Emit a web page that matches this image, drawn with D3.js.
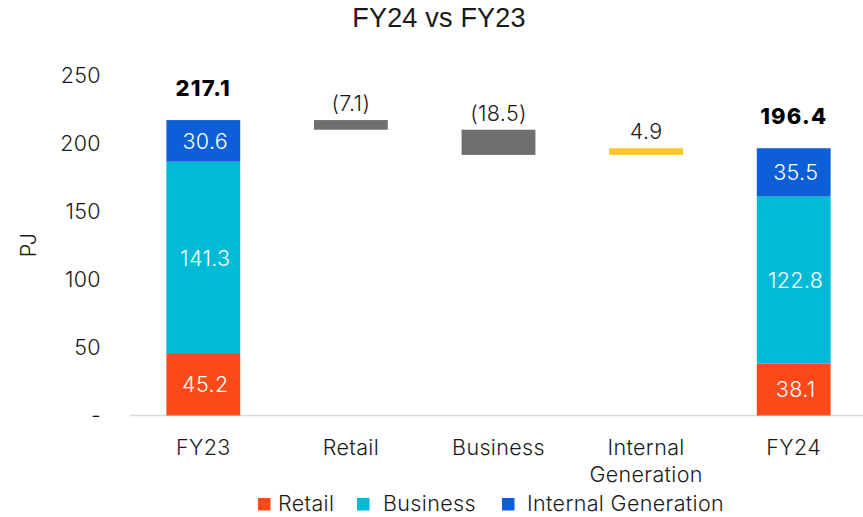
<!DOCTYPE html>
<html>
<head>
<meta charset="utf-8">
<script src="https://cdn.jsdelivr.net/npm/d3@7"></script>
<style>
  html, body { margin: 0; padding: 0; background: #fff; }
  svg { display: block; }
  text { font-family: Inter, "Noto Sans", sans-serif; font-weight: 350; letter-spacing: 0.35px; }
</style>
</head>
<body>
<svg id="chart" width="863" height="517"></svg>
<script>
const categories = ["FY23", "Retail", "Business", "Internal Generation", "FY24"];
const seriesNames = ["Retail", "Business", "Internal Generation"];
const seriesColors = ["#FC4919", "#00BAD6", "#0C5FD6"];
const fy23Values = [45.2, 141.3, 30.6];
const fy24Values = [38.1, 122.8, 35.5];
const changeCategories = ["Retail", "Business", "Internal Generation"];
const changeValues = [-7.1, -18.5, 4.9];
const changeLabels = ["(7.1)", "(18.5)", "4.9"];
const totalLabels = ["217.1", "196.4"];
const yTicks = [0, 50, 100, 150, 200, 250];
const yTickLabels = ["-", "50", "100", "150", "200", "250"];

const svg = d3.select("#chart");

const x = d3.scaleBand().domain(categories).range([129.5, 867.5]).paddingInner(0.5).paddingOuter(0.25);
const y = d3.scaleLinear().domain([0, 250]).range([415.5, 75.3]);

// Title
svg.append("text").attr("x", 439).attr("y", 27).attr("text-anchor", "middle")
  .style("font-family", "'Liberation Sans', Arial, sans-serif").style("font-weight", "400")
  .style("letter-spacing", "0.2px").style("font-size", "27px").attr("fill", "#1a1a1a")
  .text("FY24 vs FY23");

// Y axis (labels only)
const yAxis = d3.axisLeft(y).tickValues(yTicks).tickFormat((d, i) => yTickLabels[i]).tickSize(0).tickPadding(0);
const yg = svg.append("g").attr("transform", "translate(101,0)").call(yAxis);
yg.select(".domain").remove();
yg.selectAll("text").style("font-family", "Inter, sans-serif").style("font-size", "21.5px").attr("fill", "#1a1a1a");

// Y title
svg.append("text").attr("transform", "translate(36,245) rotate(-90)").attr("text-anchor", "middle")
  .style("font-size", "21.5px").attr("fill", "#1a1a1a").text("PJ");

// Baseline
svg.append("line").attr("x1", 130).attr("x2", 863).attr("y1", y(0)).attr("y2", y(0))
  .attr("stroke", "#D9D9D9").attr("stroke-width", 1.5);

// Stacked totals
function stacked(cat, vals, totalLabel) {
  let base = 0;
  vals.forEach((v, i) => {
    const y0 = y(base), y1 = y(base + v);
    svg.append("rect").attr("x", x(cat)).attr("width", x.bandwidth())
      .attr("y", y1).attr("height", y0 - y1).attr("fill", seriesColors[i]);
    svg.append("text").attr("x", x(cat) + x.bandwidth() / 2 + 2).attr("y", (y0 + y1) / 2)
      .attr("dy", "0.36em").attr("text-anchor", "middle").style("font-size", "21.5px")
      .attr("fill", "#fff").text(v.toFixed(1));
    base += v;
  });
  svg.append("text").attr("x", x(cat) + x.bandwidth() / 2).attr("y", y(base) - 24)
    .attr("text-anchor", "middle").style("font-size", "22px").style("font-weight", "800")
    .style("letter-spacing", "1.2px").attr("fill", "#000").text(totalLabel);
  return base;
}
let running = stacked("FY23", fy23Values, totalLabels[0]);

changeCategories.forEach((cat, i) => {
  const v = changeValues[i];
  const start = running, end = running + v;
  const top = y(Math.max(start, end)), bot = y(Math.min(start, end));
  svg.append("rect").attr("x", x(cat)).attr("width", x.bandwidth())
    .attr("y", top).attr("height", bot - top).attr("fill", v < 0 ? "#6F6F6F" : "#FFC629");
  svg.append("text").attr("x", x(cat) + x.bandwidth() / 2).attr("y", top - 9)
    .attr("text-anchor", "middle").style("font-size", "21.5px").attr("fill", "#1a1a1a")
    .text(changeLabels[i]);
  running = end;
});

stacked("FY24", fy24Values, totalLabels[1]);

// X axis labels
const xg = svg.append("g");
categories.forEach(cat => {
  const words = cat === "Internal Generation" ? ["Internal", "Generation"] : [cat];
  const t = xg.append("text").attr("text-anchor", "middle").style("font-size", "21.5px").attr("fill", "#1a1a1a");
  words.forEach((w, j) => {
    t.append("tspan").attr("x", x(cat) + x.bandwidth() / 2).attr("y", 455 + j * 27).text(w);
  });
});

// Legend
const legendSq = [258, 357, 502];
const legendTx = [278, 383, 527];
seriesNames.forEach((n, i) => {
  svg.append("rect").attr("x", legendSq[i]).attr("y", 498).attr("width", 12.5).attr("height", 12.5).attr("fill", seriesColors[i]);
  svg.append("text").attr("x", legendTx[i]).attr("y", 511).style("font-size", "21.5px").attr("fill", "#1a1a1a").text(n);
});
</script>
</body>
</html>
